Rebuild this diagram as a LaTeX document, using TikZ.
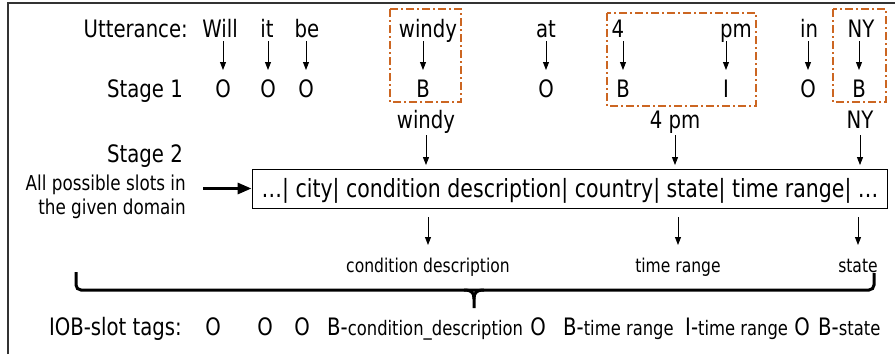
\documentclass[tikz,border=0pt]{standalone}
\usepackage{fontspec}
\setmainfont{DejaVu Sans}[FakeStretch=0.82]
\usetikzlibrary{arrows.meta}
\usetikzlibrary{positioning}
\definecolor{slotorange}{RGB}{204,102,34}
\newcommand{\bigsz}{\fontsize{24}{28}\selectfont}
\newcommand{\boxsz}{\fontsize{25}{29}\selectfont}
\newcommand{\labsz}{\fontsize{19}{24}\selectfont}
\newcommand{\iobsz}{\fontsize{20}{24}\selectfont}
\newcommand{\notesz}{\fontsize{20.5}{24}\selectfont}
\tikzset{
  word/.style={inner sep=0pt, anchor=base, font=\bigsz, text depth=0pt, outer ysep=4pt},
  tag/.style={inner sep=0pt, anchor=base, font=\bigsz, text height=17.5pt, text depth=0pt, outer ysep=9.5pt},
  slot/.style={inner sep=0pt, anchor=base, font=\bigsz, text depth=0pt, outer ysep=7pt},
  slotlab/.style={inner sep=0pt, anchor=base, font=\labsz, text height=14.4pt, text depth=0pt, outer ysep=12.6pt},
  rowname/.style={inner sep=0pt, anchor=base east, font=\bigsz},
  iob/.style={inner sep=0pt, anchor=base, font=\bigsz},
  thin arrow/.style={-{Triangle[length=8pt,width=6pt]}, line width=0.9pt},
  thick arrow/.style={-{Triangle[length=14pt,width=11pt]}, line width=3pt},
  spanbox/.style={draw=slotorange, line width=1.8pt, dash pattern=on 8pt off 3pt on 2pt off 3pt},
}

\begin{document}
\begin{tikzpicture}[x=1pt,y=-1pt]
    \useasboundingbox (0,0) rectangle (895,354);
    \draw[line width=1.5pt, black!80] (8,354) -- (8,3) -- (895,3);

    % row names
    \node[rowname] (utt) at (188,37) {Utterance:};
    \node[rowname] (st1) at (183,97) {Stage 1};
    \node[rowname] (st2) at (183,162) {Stage 2};
    \node[inner sep=0pt, anchor=east, font=\notesz, align=right] (allslots) at (186,197)
        {All possible slots in\\the given domain};

    % utterance words
    \node[word] (w1) at (220,37) {Will};
    \node[word] (w2) at (267,37) {it};
    \node[word] (w3) at (307,37) {be};
    \node[word] (w4) at (428,37) {windy};
    \node[word] (w5) at (546,37) {at};
    \node[word] (w6) at (618,37) {4};
    \node[word] (w7) at (736,37) {pm};
    \node[word] (w8) at (809,37) {in};
    \node[word] (w9) at (861,37) {NY};

    % stage 1 tags
    \node[tag] (t1) at (223,97) {O};
    \node[tag] (t2) at (268,97) {O};
    \node[tag] (t3) at (306,97) {O};
    \node[tag] (t4) at (423,97) {B};
    \node[tag] (t5) at (546,97) {O};
    \node[tag] (t6) at (623,97) {B};
    \node[tag] (t7) at (726,97) {I};
    \node[tag] (t8) at (808,97) {O};
    \node[tag] (t9) at (859,97) {B};

    \foreach \i in {1,...,9}
      \draw[thin arrow] (t\i |- w\i.south) -- (t\i.north);

    % spans found in stage 1
    \draw[spanbox] (390,9) rectangle (461,102);
    \draw[spanbox] (607,13) rectangle (756,106);
    \draw[spanbox] (833,9) rectangle (886,102);

    % stage 2
    \node[slot] (s1) at (426,128) {windy};
    \node[slot] (s2) at (675,128) {4 pm};
    \node[slot] (s3) at (860,128) {NY};

    \node[draw, line width=0.9pt, minimum width=635pt, minimum height=39pt, inner sep=0pt,
          text height=22pt, text depth=5pt, font=\boxsz] (slots) at (569.5,188.5)
        {\hspace{1pt}\dots| city| condition description| country| state| time range| \dots};

    \draw[thick arrow, shorten <=17pt] (slots.west -| allslots.east) -- (slots.west);

    \node[slotlab] (l1) at (428,272) {condition description};
    \node[slotlab] (l2) at (678,272) {time range};
    \node[slotlab] (l3) at (858,272) {state};

    \foreach \i in {1,2,3} {
      \draw[thin arrow, shorten >=3.5pt] (s\i.south) -- (s\i |- slots.north);
      \draw[thin arrow, shorten <=9pt] (l\i |- slots.south) -- (l\i.north);
    }

    % brace over the tags
    \draw[line width=3pt, rounded corners=5pt] (76,272) -- (76,290) -- (874,290) -- (874,273);
    \draw[line width=3pt] (464,290) .. controls (472,290) and (474,293) .. (474,299) -- (474,308);
    \draw[line width=3pt] (484,290) .. controls (476,290) and (474,293) .. (474,299);

    % IOB-slot tags
    \node[rowname] (iobname) at (182,335) {IOB-slot tags:};
    \node[iob] (o1) at (213,335) {O};
    \node[iob] (o2) at (265,335) {O};
    \node[iob] (o3) at (302,335) {O};
    \node[iob, anchor=base west] (o4) at (327,335) {B-{\iobsz condition\_description}};
    \node[iob] (o5) at (538,335) {O};
    \node[iob, anchor=base west] (o6) at (563,335) {B-{\iobsz time range}};
    \node[iob, anchor=base west] (o7) at (685,335) {I-{\iobsz time range}};
    \node[iob] (o8) at (802,335) {O};
    \node[iob, anchor=base west] (o9) at (818,335) {B-{\iobsz state}};
\end{tikzpicture}
\end{document}
